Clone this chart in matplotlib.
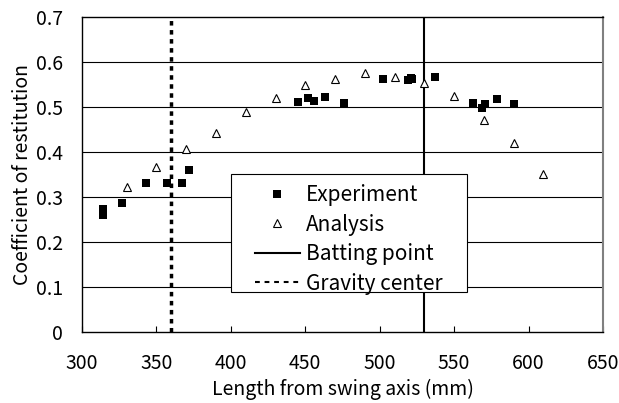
import matplotlib
matplotlib.use("Agg")
import matplotlib.pyplot as plt
from matplotlib.patches import Rectangle

plt.rcParams['font.family'] = ['Noto Sans CJK JP', 'DejaVu Sans']

exp_x = [314, 314, 327, 343, 357, 367, 372, 445, 452, 456, 463, 476,
         502, 519, 521, 522, 537, 563, 569, 571, 579, 590]
exp_y = [0.273, 0.261, 0.287, 0.332, 0.331, 0.331, 0.361, 0.511, 0.521, 0.515, 0.524, 0.509,
         0.563, 0.560, 0.566, 0.562, 0.568, 0.509, 0.499, 0.507, 0.518, 0.507]

ana_x = [330, 350, 370, 390, 410, 430, 450, 470, 490, 510, 530, 550, 570, 590, 610]
ana_y = [0.324, 0.368, 0.407, 0.444, 0.490, 0.521, 0.550, 0.564, 0.576, 0.568,
         0.553, 0.526, 0.472, 0.420, 0.352]

batting_point = 530
gravity_center = 360

xticks = [300, 350, 400, 450, 500, 550, 600, 650]
yticks = [0, 0.1, 0.2, 0.3, 0.4, 0.5, 0.6, 0.7]
ytick_labels = ['0', '0.1', '0.2', '0.3', '0.4', '0.5', '0.6', '0.7']

FS = 14

fig = plt.figure(figsize=(6.19, 4.03), dpi=100)
ax = fig.add_axes([82/619, 1-332.3/403, 521/619, 315/403])

for y in yticks[1:-1]:
    ax.axhline(y, color='black', lw=0.8, zorder=1)

ax.plot(exp_x, exp_y, ls='none', marker='s', ms=5.8, mew=0, color='black', label='Experiment', zorder=3)
ax.plot(ana_x, ana_y, ls='none', marker='^', ms=5.3, mfc='white', mec='black', mew=0.8,
        label='Analysis', zorder=3)
ax.axvline(batting_point, color='black', lw=1.5, label='Batting point', zorder=2)
ax.axvline(gravity_center, color='black', lw=2.5, ls=(0, (1.3, 1.3)), zorder=2)
ax.plot([], [], color='black', lw=1.5, ls=(0, (2.3, 2.3)), label='Gravity center')

ax.set_xlim(300, 650)
ax.set_ylim(0, 0.7)
ax.set_xticks(xticks)
ax.set_yticks(yticks)
ax.set_yticklabels(ytick_labels)
ax.tick_params(axis='x', direction='in', length=4, width=0.8, labelsize=FS, pad=15)
ax.tick_params(axis='y', length=0, labelsize=FS, pad=13.5)

for s in ['left', 'bottom', 'top']:
    ax.spines[s].set_color('black')
    ax.spines[s].set_linewidth(1.0)
ax.spines['right'].set_color('#808080')
ax.spines['right'].set_linewidth(1.5)

ax.set_xlabel('Length from swing axis (mm)', fontsize=FS, labelpad=3.5)
ax.set_ylabel('Coefficient of restitution', fontsize=FS, labelpad=2.5)

# legend frame
frame = Rectangle((0.286, 0.128), 0.453, 0.3745, transform=ax.transAxes,
                  facecolor='white', edgecolor='black', lw=0.8, zorder=4)
ax.add_patch(frame)
leg = ax.legend(loc='upper left', bbox_to_anchor=(0.332, 0.470), fontsize=15,
                frameon=False, handlelength=2.15, borderpad=0, labelspacing=0.36,
                handletextpad=0.3, borderaxespad=0)
leg.set_zorder(5)

fig.savefig('out.png', dpi=100)
